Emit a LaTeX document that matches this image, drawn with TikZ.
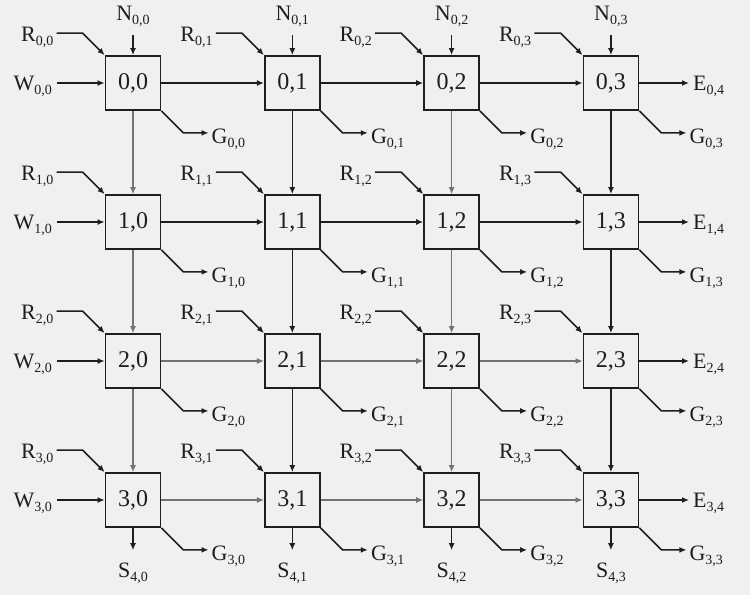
\documentclass[tikz,border=0pt]{standalone}
\usepackage{fontspec}
\setmainfont{Liberation Serif}
\usetikzlibrary{arrows.meta,calc}
\definecolor{bg}{RGB}{240,240,240}
\definecolor{ink}{RGB}{30,30,30}
\definecolor{inklight}{RGB}{115,115,115}
\newcommand\lbl[2]{#1\raisebox{-4.5pt}{\fontsize{14}{14}\selectfont #2}}
\begin{document}
\begin{tikzpicture}[x=1pt,y=-1pt,
  cell/.style={draw=ink, line width=1.8pt, minimum width=55pt, minimum height=54pt,
    inner sep=0pt, text=ink, font=\fontsize{24}{24}\selectfont},
  lab/.style={inner sep=0pt, text=ink, font=\fontsize{22}{22}\selectfont},
  conn/.style={draw=ink, line width=1.6pt, -{Latex[length=7pt,width=6pt]}},
  connl/.style={conn, draw=inklight, line width=1.1pt},
]
\fill[bg] (0,0) rectangle (750,595);
\useasboundingbox (0,0) rectangle (750,595);
% boxes and per-box labels
\foreach \r in {0,...,3}{
  \foreach \c in {0,...,3}{
    \pgfmathsetmacro\cx{133+159.3*\c}
    \pgfmathsetmacro\cy{83+139*\r}
    \node[cell] (b\r\c) at (\cx,\cy) {\r,\c};
    % R input
    \node[lab, anchor=base east] (r\r\c) at (\cx-27.5-52, \cy-49+7) {\lbl{R}{\r,\c}};
    \coordinate (rc\r\c) at ($(b\r\c.north west)+(-22,-22)$);
    \draw[conn, shorten <=3pt] (rc\r\c -| r\r\c.east) -- (rc\r\c) -- (b\r\c.north west);
    % G output
    \node[lab, anchor=base west] (g\r\c) at (\cx+27.5+51, \cy+49+11) {\lbl{G}{\r,\c}};
    \coordinate (gc\r\c) at ($(b\r\c.south east)+(22,22)$);
    \draw[conn, shorten >=3pt] (b\r\c.south east) -- (gc\r\c) -- (gc\r\c -| g\r\c.west);
  }
}
% W inputs and E outputs
\foreach \r in {0,...,3}{
  \pgfmathsetmacro\cy{83+139*\r}
  \node[lab, anchor=base east] (w\r) at (52, \cy+7) {\lbl{W}{\r,0}};
  \draw[conn, shorten <=5pt] (w\r.east |- b\r0.west) -- (b\r0.west);
  \node[lab, anchor=base west] (e\r) at (693, \cy+7) {\lbl{E}{\r,4}};
  \draw[conn, shorten >=4pt] (b\r3.east) -- (b\r3.east -| e\r.west);
}
% N inputs and S outputs
\foreach \c in {0,...,3}{
  \pgfmathsetmacro\cx{133+159.3*\c}
  \node[lab, anchor=base] (n\c) at (\cx, 20) {\lbl{N}{0,\c}};
  \draw[conn, shorten <=8pt] (n\c.south -| b0\c.north) -- (b0\c.north);
  \node[lab, anchor=base] (s\c) at (\cx, 577) {\lbl{S}{4,\c}};
  \draw[conn, shorten >=12pt] (b3\c.south) -- (b3\c.south |- s\c.north);
}
% horizontal links
\foreach \r/\st in {0/conn,1/conn,2/connl,3/connl}{
  \foreach \c in {0,1,2}{
    \pgfmathtruncatemacro\cn{\c+1}
    \draw[\st] (b\r\c.east) -- (b\r\cn.west);
  }
}
% vertical links
\foreach \c/\st in {0/connl,1/conn,2/connl,3/conn}{
  \foreach \r in {0,1,2}{
    \pgfmathtruncatemacro\rn{\r+1}
    \draw[\st] (b\r\c.south) -- (b\rn\c.north);
  }
}
\end{tikzpicture}
\end{document}
